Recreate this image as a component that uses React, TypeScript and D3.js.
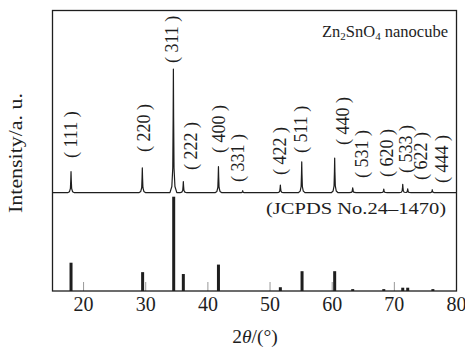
import { useEffect, useRef } from 'react';
import * as d3 from 'd3';

const W = 465;
const H = 348;

// measured pattern: peak positions (2θ) and heights (rel. to (311) = 100)
const hkl = ['(111)', '(220)', '(311)', '(222)', '(400)', '(331)', '(422)', '(511)', '(440)', '(531)', '(620)', '(533)', '(622)', '(444)'];
const peakPos = [17.98, 29.45, 34.45, 36.05, 41.7, 45.6, 51.66, 55.1, 60.4, 63.3, 68.3, 71.35, 72.15, 76.1];
const peakInt = [17, 20, 100, 9, 21, 1.6, 6.2, 25, 28, 4, 3, 6.8, 3.2, 2.4];

// JCPDS No.24-1470 reference lines
const refPos = [17.98, 29.5, 34.5, 36.05, 41.7, 51.66, 55.15, 60.4, 63.3, 68.3, 71.35, 72.15, 76.2];
const refInt = [30, 20, 100, 18, 28, 4, 21, 21, 2, 2, 3.5, 3.5, 2];

const xTicks = [20, 30, 40, 50, 60, 70, 80];

// where each hkl label sits: [2θ of label centre, px of label bottom]
const labelAt: [number, number][] = [
  [18.15, 158], [29.8, 152], [34.25, 63], [37.3, 170], [41.96, 153], [45.0, 182], [51.66, 175],
  [55.15, 153], [61.8, 145], [64.9, 178], [68.9, 177], [72.0, 173], [74.4, 180], [77.8, 183],
];

// peak profile shape (offset in degrees, fraction of height)
const shape: [number, number][] = [
  [-0.55, 0], [-0.25, 0.05], [-0.1, 0.2], [-0.04, 0.6], [0, 1], [0.04, 0.6], [0.1, 0.2], [0.25, 0.05], [0.55, 0],
];

const serif = '"Liberation Serif", "DejaVu Serif", serif';
const ink = '#1e1e1e';

export default function App() {
  const ref = useRef<SVGSVGElement>(null);

  useEffect(() => {
    const svg = d3.select(ref.current);
    svg.selectAll('*').remove();

    const left = 52.5, right = 456.5, top = 10.5, bottom = 291;
    const x = d3.scaleLinear().domain([15, 80]).range([left, right]);
    const yTop = d3.scaleLinear().domain([0, 100]).range([192.7, 69]);
    const yRef = d3.scaleLinear().domain([0, 100]).range([bottom, 196.7]);

    // measured pattern as a sum of peak profiles
    const prof = d3.scaleLinear().domain(shape.map(d => d[0])).range(shape.map(d => d[1])).clamp(true);
    const xs = [15, 80];
    peakPos.forEach(p => shape.forEach(s => xs.push(p + s[0])));
    xs.sort((a, b) => a - b);
    const pts = xs.map(t => [t, d3.sum(peakPos, (p, i) => prof(t - p) * peakInt[i])] as [number, number]);
    const line = d3.line<[number, number]>().x(d => x(d[0])).y(d => yTop(d[1]));

    svg.append('path').attr('d', line(pts)).attr('fill', 'none')
      .attr('stroke', ink).attr('stroke-width', 1.2).attr('stroke-linejoin', 'round');

    // reference bars
    svg.selectAll('rect.bar').data(refPos).join('rect').attr('class', 'bar')
      .attr('x', d => x(d) - 1.5).attr('width', 3)
      .attr('y', (_, i) => yRef(refInt[i])).attr('height', (_, i) => bottom - yRef(refInt[i]))
      .attr('fill', ink);

    // inner ticks on the bottom axis
    svg.selectAll('line.tick').data(xTicks.slice(0, -1)).join('line').attr('class', 'tick')
      .attr('x1', d => x(d)).attr('x2', d => x(d)).attr('y1', bottom).attr('y2', bottom - 9)
      .attr('stroke', '#999').attr('stroke-width', 1);

    svg.append('rect').attr('x', left).attr('y', top).attr('width', right - left).attr('height', bottom - top)
      .attr('fill', 'none').attr('stroke', ink).attr('stroke-width', 1.3);

    svg.selectAll('text.tl').data(xTicks).join('text').attr('class', 'tl')
      .attr('x', d => x(d)).attr('y', 311).attr('text-anchor', 'middle')
      .attr('font-family', serif).attr('font-size', 20).attr('fill', ink)
      .text(d => d);

    // hkl labels
    svg.selectAll('text.hkl').data(hkl).join('text').attr('class', 'hkl')
      .attr('transform', (_, i) => `translate(${x(labelAt[i][0])},${labelAt[i][1]}) rotate(-90)`)
      .attr('dy', '0.3em').attr('font-family', serif).attr('font-size', 18)
      .attr('fill', ink)
      .text(d => d.replace('(', '( ').replace(')', ' )'));

    // title
    const title = svg.append('text').attr('x', 448).attr('y', 36.5).attr('text-anchor', 'end')
      .attr('font-family', serif).attr('font-size', 16.5).attr('fill', ink);
    title.append('tspan').text('Zn');
    title.append('tspan').attr('dy', 3).attr('font-size', 11).text('2');
    title.append('tspan').attr('dy', -3).text('SnO');
    title.append('tspan').attr('dy', 3).attr('font-size', 11).text('4');
    title.append('tspan').attr('dy', -3).text(' nanocube');

    svg.append('text').attr('x', 446).attr('y', 213.5).attr('text-anchor', 'end')
      .attr('font-family', serif).attr('font-size', 16.5).attr('fill', ink)
      .attr('textLength', 180).attr('lengthAdjust', 'spacingAndGlyphs')
      .text('(JCPDS No.24\u20131470)');

    svg.append('text').attr('transform', 'translate(16.5,153) rotate(-90)').attr('dy', '0.33em')
      .attr('text-anchor', 'middle').attr('font-family', serif).attr('font-size', 18).attr('fill', ink)
      .attr('textLength', 120).attr('lengthAdjust', 'spacingAndGlyphs')
      .text('Intensity/a. u.');

    const xl = svg.append('text').attr('x', 255).attr('y', 343).attr('text-anchor', 'middle')
      .attr('font-family', serif).attr('font-size', 19.5).attr('fill', ink);
    xl.append('tspan').text('2');
    xl.append('tspan').attr('font-style', 'italic').text('\u03b8');
    xl.append('tspan').text('/(\u00b0)');
  }, []);

  return (
    <svg ref={ref} width={W} height={H} style={{ position: 'absolute', left: 0, top: 0, background: '#fff' }} />
  );
}
